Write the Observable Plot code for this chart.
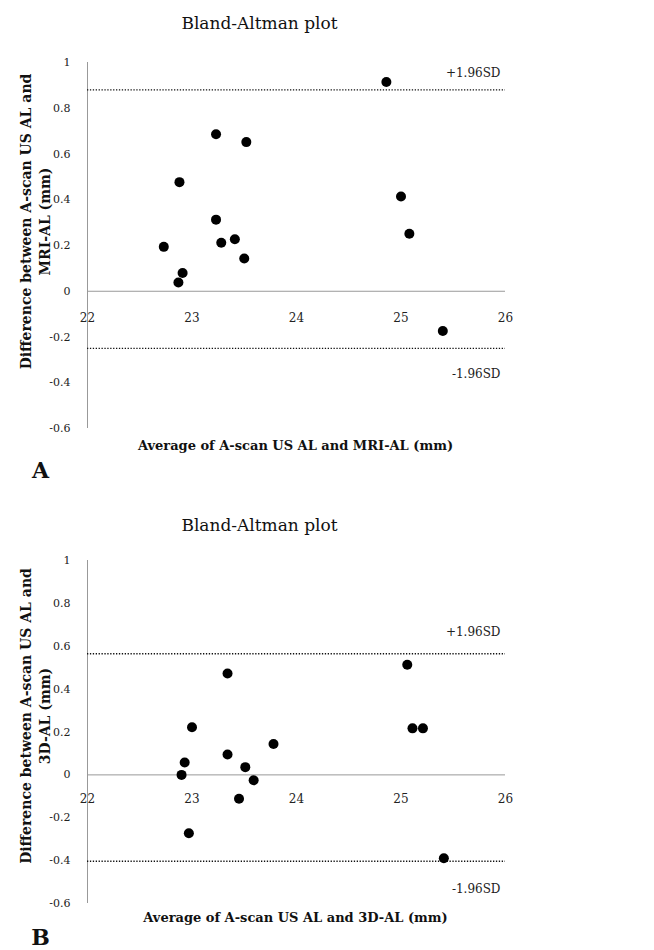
<!DOCTYPE html>
<html>
<head>
<meta charset="utf-8">
<script src="https://cdn.jsdelivr.net/npm/d3@7"></script>
<script src="https://cdn.jsdelivr.net/npm/@observablehq/plot@0.6"></script>
<style>
  html, body { margin: 0; padding: 0; background: #fff; }
  #wrap { position: relative; width: 654px; height: 950px; }
  #wrap svg { display: block; }
</style>
</head>
<body>
<div id="wrap"></div>
<script>
// ---- data ----
const xTicks = [22, 23, 24, 25, 26];
const yTicks = [-0.6, -0.4, -0.2, 0, 0.2, 0.4, 0.6, 0.8, 1];

const aAvg  = [24.86, 23.23, 23.52, 22.88, 25.00, 22.73, 22.91, 22.87, 23.23, 23.28, 23.41, 23.50, 25.08, 25.40];
const aDiff = [0.915, 0.686, 0.652, 0.477, 0.414, 0.194, 0.080, 0.038, 0.313, 0.212, 0.227, 0.143, 0.251, -0.174];
const aLimits = [0.88, -0.25];

const bAvg  = [25.06, 23.34, 23.00, 25.11, 25.21, 23.78, 23.34, 22.93, 22.90, 23.51, 23.59, 23.45, 22.97, 25.41];
const bDiff = [0.514, 0.473, 0.222, 0.217, 0.217, 0.144, 0.095, 0.058, 0.000, 0.036, -0.025, -0.111, -0.272, -0.389];
const bLimits = [0.565, -0.403];

const titleText = "Bland-Altman plot";
const limitLabels = ["+1.96SD", "-1.96SD"];
const aYLabel = "Difference between A-scan US AL and\nMRI-AL (mm)";
const bYLabel = "Difference between A-scan US AL and\n3D-AL (mm)";
const aXLabel = "Average of A-scan US AL and MRI-AL (mm)";
const bXLabel = "Average of A-scan US AL and 3D-AL (mm)";
const panelLetters = ["A", "B"];

function makePanel(o) {
  const pts = o.avg.map((x, i) => ({x, y: o.diff[i]}));
  const lims = o.limits.map((v, i) => ({v, label: limitLabels[i]}));
  return Plot.plot({
    width: 654,
    height: 475,
    marginLeft: 87,
    marginRight: 149,
    marginTop: o.marginTop,
    marginBottom: 47,
    style: {fontFamily: "'DejaVu Serif', serif", fontSize: "11px", background: "white", color: "#222", overflow: "visible"},
    x: {domain: [22, 26], axis: null},
    y: {domain: [-0.6, 1], ticks: yTicks, tickSize: 0, tickPadding: 17, tickFormat: d => String(d), label: null},
    marks: [
      Plot.ruleX([22], {y1: -0.6, y2: 1, stroke: "#999", strokeWidth: 1}),
      Plot.ruleY([0], {x1: 22, x2: 26, stroke: "#999", strokeWidth: 1}),
      Plot.ruleY(lims, {y: "v", x1: 22, x2: 26, stroke: "#111", strokeWidth: 1.3, strokeDasharray: "1.3,1.6"}),
      Plot.text(xTicks, {x: d => d, y: 0, dy: o.xTickDy, text: d => String(d), fontSize: 12, fill: "#222"}),
      Plot.text([lims[0]], {x: 26, y: "v", text: "label", textAnchor: "end", dx: -5, dy: o.upDy, fontSize: 12, fill: "#222"}),
      Plot.text([lims[1]], {x: 26, y: "v", text: "label", textAnchor: "end", dx: -5, dy: o.lowDy, fontSize: 12, fill: "#222"}),
      Plot.dot(pts, {x: "x", y: "y", r: 5, fill: "black", stroke: "none"}),
      Plot.text([titleText], {frameAnchor: "top", textAnchor: "middle", lineAnchor: "middle", dx: -37, dy: o.titleDy, fontSize: 17, fill: "#111"}),
      Plot.text([o.yLabel], {frameAnchor: "left", textAnchor: "middle", lineAnchor: "middle", rotate: -90, dx: -53, dy: o.yLabelDy, fontSize: 14, fontWeight: "bold", lineHeight: 1.36, fill: "#111"}),
      Plot.text([o.xLabel], {frameAnchor: "bottom", textAnchor: "middle", lineAnchor: "middle", dx: -1, dy: o.xLabelDy, fontSize: 13, fontWeight: "bold", fill: "#111"}),
      Plot.text([o.letter], {frameAnchor: "bottom-left", textAnchor: "middle", lineAnchor: "middle", dx: -47, dy: o.letterDy, fontSize: 22, fontWeight: "bold", fill: "#111"})
    ]
  });
}

const wrap = document.getElementById("wrap");
wrap.appendChild(makePanel({
  avg: aAvg, diff: aDiff, limits: aLimits, marginTop: 62,
  xTickDy: 27, upDy: -17, lowDy: 26, titleDy: -39, yLabelDy: -24, xLabelDy: 17, letterDy: 42,
  yLabel: aYLabel, xLabel: aXLabel, letter: panelLetters[0]
}));
wrap.appendChild(makePanel({
  avg: bAvg, diff: bDiff, limits: bLimits, marginTop: 85,
  xTickDy: 24, upDy: -22, lowDy: 28, titleDy: -35, yLabelDy: -16, xLabelDy: 14, letterDy: 34,
  yLabel: bYLabel, xLabel: bXLabel, letter: panelLetters[1]
}));
</script>
</body>
</html>
